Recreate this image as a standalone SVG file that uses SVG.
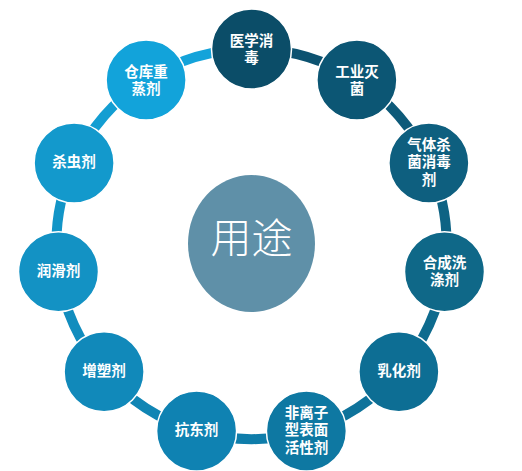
<svg xmlns="http://www.w3.org/2000/svg" width="522" height="471" viewBox="0 0 522 471">
<style>
.node circle{stroke:#ffffff;stroke-width:1.5}
.node text{font-family:"Liberation Sans","Noto Sans CJK SC",sans-serif;font-size:14.5px;font-weight:700;fill:#ffffff;text-anchor:middle;dominant-baseline:central}
.seg{fill:none;stroke-width:10}
.hub text{font-family:"Liberation Sans","Noto Sans CJK SC",sans-serif;font-size:41px;font-weight:300;fill:#ffffff;text-anchor:middle;dominant-baseline:central}
</style>
<rect width="522" height="471" fill="#ffffff"/>
<g id="connectors">
<path class="seg" stroke="#0c5270" d="M251.5 49 A195 195 0 0 1 356.9 79.9"/>
<path class="seg" stroke="#0d5a79" d="M356.9 79.9 A195 195 0 0 1 428.9 163"/>
<path class="seg" stroke="#0e6384" d="M428.9 163 A195 195 0 0 1 444.5 271.7"/>
<path class="seg" stroke="#0e6b8e" d="M444.5 271.7 A195 195 0 0 1 398.9 371.7"/>
<path class="seg" stroke="#0e739b" d="M398.9 371.7 A195 195 0 0 1 306.4 431.1"/>
<path class="seg" stroke="#0f7daa" d="M306.4 431.1 A195 195 0 0 1 196.6 431.1"/>
<path class="seg" stroke="#1085b4" d="M196.6 431.1 A195 195 0 0 1 104.1 371.7"/>
<path class="seg" stroke="#118dbe" d="M104.1 371.7 A195 195 0 0 1 58.5 271.7"/>
<path class="seg" stroke="#1295c7" d="M58.5 271.7 A195 195 0 0 1 74.1 163"/>
<path class="seg" stroke="#139ed2" d="M74.1 163 A195 195 0 0 1 146.1 79.9"/>
<path class="seg" stroke="#14a3da" d="M146.1 79.9 A195 195 0 0 1 251.5 49"/>
</g>
<g id="hub" class="hub">
<ellipse cx="251.5" cy="243.5" rx="63.5" ry="68.5" fill="#5f90a8"/>
<text x="251.5" y="239">用途</text>
</g>
<g id="n1" class="node"><circle cx="251.5" cy="49" r="40" fill="#0b4d68"/><text x="251.5" y="40.5">医学消<tspan x="251.5" dy="17.5">毒</tspan></text></g>
<g id="n2" class="node"><circle cx="356.9" cy="79.9" r="40" fill="#0c5674"/><text x="356.9" y="71.5">工业灭<tspan x="356.9" dy="17.5">菌</tspan></text></g>
<g id="n3" class="node"><circle cx="428.9" cy="163" r="40" fill="#0e5f7f"/><text x="428.9" y="144.5">气体杀<tspan x="428.9" dy="17.5">菌消毒</tspan><tspan x="428.9" dy="17.5">剂</tspan></text></g>
<g id="n4" class="node"><circle cx="444.5" cy="271.7" r="40" fill="#0f6888"/><text x="444.5" y="262.5">合成洗<tspan x="444.5" dy="17.5">涤剂</tspan></text></g>
<g id="n5" class="node"><circle cx="398.9" cy="371.7" r="40" fill="#0d6e94"/><text x="398.9" y="371">乳化剂</text></g>
<g id="n6" class="node"><circle cx="306.4" cy="431.1" r="40" fill="#0e78a2"/><text x="306.4" y="412.5">非离子<tspan x="306.4" dy="17.5">型表面</tspan><tspan x="306.4" dy="17.5">活性剂</tspan></text></g>
<g id="n7" class="node"><circle cx="196.6" cy="431.1" r="40" fill="#0f82b2"/><text x="196.6" y="430">抗东剂</text></g>
<g id="n8" class="node"><circle cx="104.1" cy="371.7" r="40" fill="#1189ba"/><text x="104.1" y="371">增塑剂</text></g>
<g id="n9" class="node"><circle cx="58.5" cy="271.7" r="40" fill="#1392c4"/><text x="58.5" y="271">润滑剂</text></g>
<g id="n10" class="node"><circle cx="74.1" cy="163" r="40" fill="#1399cc"/><text x="74.1" y="162">杀虫剂</text></g>
<g id="n11" class="node"><circle cx="146.1" cy="79.9" r="40" fill="#12a3da"/><text x="146.1" y="71.5">仓库重<tspan x="146.1" dy="17.5">蒸剂</tspan></text></g>
</svg>
